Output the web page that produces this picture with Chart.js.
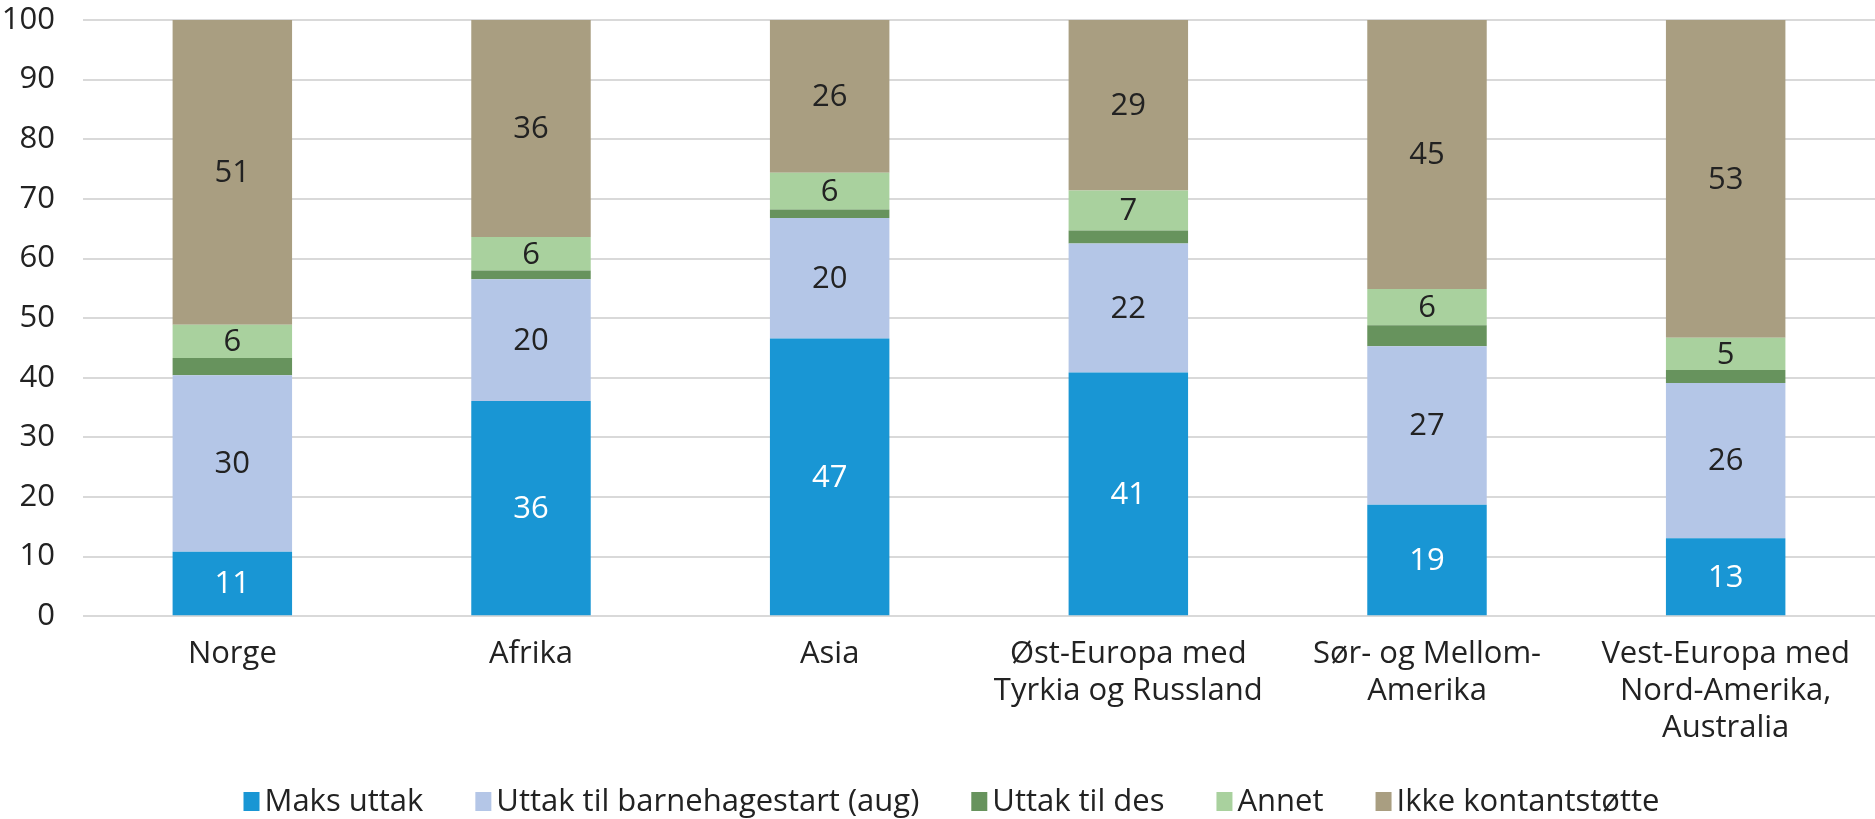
<!DOCTYPE html>
<html>
<head>
<meta charset="utf-8">
<script src="https://cdn.jsdelivr.net/npm/chart.js@4/dist/chart.umd.min.js"></script>
<style>
  body { margin: 0; background: #fff; }
</style>
</head>
<body>
<canvas id="myChart" width="1875" height="819"></canvas>
<script>
// categories (regions)
const regions = [
    'Norge',
    'Afrika',
    'Asia',
    ['Øst-Europa med', 'Tyrkia og Russland'],
    ['Sør- og Mellom-', 'Amerika'],
    ['Vest-Europa med', 'Nord-Amerika,', 'Australia']
];

// series values, in percent
const maksUttak = [10.8, 36.1, 46.6, 40.9, 18.7, 13.1];
const uttakAug = [29.6, 20.4, 20.2, 21.6, 26.6, 26.0];
const uttakDes = [2.9, 1.5, 1.4, 2.2, 3.5, 2.2];
const annet = [5.6, 5.6, 6.2, 6.7, 6.1, 5.4];
const ikkeKontantstotte = [51.1, 36.4, 25.6, 28.6, 45.1, 53.3];

const yTicks = [0, 10, 20, 30, 40, 50, 60, 70, 80, 90, 100];

const FONT = "'Open Sans', sans-serif";
const FONT_SIZE = 31;
const TEXT = '#222222';

// rounded value in the middle of each segment (none for "Uttak til des")
const segmentLabels = {
    id: 'segmentLabels',
    afterDatasetsDraw(chart) {
        const ctx = chart.ctx;
        ctx.save();
        ctx.font = FONT_SIZE + 'px ' + FONT;
        ctx.textAlign = 'center';
        ctx.textBaseline = 'middle';
        chart.data.datasets.forEach((ds, i) => {
            if (ds.hideLabels) return;
            const meta = chart.getDatasetMeta(i);
            meta.data.forEach((bar, j) => {
                ctx.fillStyle = ds.labelColor;
                ctx.fillText(Math.round(ds.data[j]), bar.x, (bar.y + bar.base) / 2 + 1);
            });
        });
        ctx.restore();
    }
};

// legend in one row under the chart, square tight against its text
const bottomLegend = {
    id: 'bottomLegend',
    afterDraw(chart) {
        const ctx = chart.ctx;
        const box = 16, gap = 5, spacing = 52;
        ctx.save();
        ctx.font = FONT_SIZE + 'px ' + FONT;
        ctx.textBaseline = 'alphabetic';
        ctx.textAlign = 'left';
        const items = chart.data.datasets.map(ds => ({
            text: ds.label,
            color: ds.backgroundColor,
            w: ctx.measureText(ds.label).width
        }));
        const total = items.reduce((s, it) => s + box + gap + it.w, 0) + spacing * (items.length - 1);
        let x = chart.width / 2 + 14 - total / 2;
        const baseline = chart.height - 8;
        items.forEach(it => {
            ctx.fillStyle = it.color;
            ctx.fillRect(x, baseline - 19, box, 19);
            ctx.fillStyle = TEXT;
            ctx.fillText(it.text, x + box + gap, baseline);
            x += box + gap + it.w + spacing;
        });
        ctx.restore();
    }
};

const ctx = document.getElementById('myChart').getContext('2d');
const myChart = new Chart(ctx, {
    type: 'bar',
    data: {
        labels: regions,
        datasets: [
            { label: 'Maks uttak', data: maksUttak, backgroundColor: '#1996d4', labelColor: '#ffffff' },
            { label: 'Uttak til barnehagestart (aug)', data: uttakAug, backgroundColor: '#b4c6e7', labelColor: TEXT },
            { label: 'Uttak til des', data: uttakDes, backgroundColor: '#67935d', hideLabels: true },
            { label: 'Annet', data: annet, backgroundColor: '#a9d19e', labelColor: TEXT },
            { label: 'Ikke kontantstøtte', data: ikkeKontantstotte, backgroundColor: '#a99e81', labelColor: TEXT }
        ]
    },
    options: {
        responsive: false,
        animation: false,
        devicePixelRatio: 1,
        layout: { padding: { left: 2, right: 0, top: 20, bottom: 53 } },
        datasets: {
            bar: { categoryPercentage: 1, barPercentage: 0.4, borderWidth: 0 }
        },
        scales: {
            x: {
                stacked: true,
                grid: { display: false, drawTicks: false },
                border: { display: false },
                ticks: {
                    color: TEXT,
                    font: { family: FONT, size: FONT_SIZE, lineHeight: 1.18 },
                    padding: 20,
                    maxRotation: 0,
                    autoSkip: false
                }
            },
            y: {
                stacked: true,
                min: 0,
                max: 100,
                afterBuildTicks(axis) {
                    axis.ticks = yTicks.map(v => ({ value: v }));
                },
                afterFit(axis) {
                    axis.width = 81;
                    axis.paddingTop = 0;
                    axis.paddingBottom = 0;
                },
                grid: { color: '#d9d9d9', lineWidth: 2, drawTicks: false },
                border: { display: false },
                ticks: {
                    color: TEXT,
                    font: { family: FONT, size: FONT_SIZE },
                    padding: 28
                }
            }
        },
        plugins: {
            legend: { display: false },
            tooltip: { enabled: false }
        }
    },
    plugins: [segmentLabels, bottomLegend]
});
</script>
</body>
</html>
